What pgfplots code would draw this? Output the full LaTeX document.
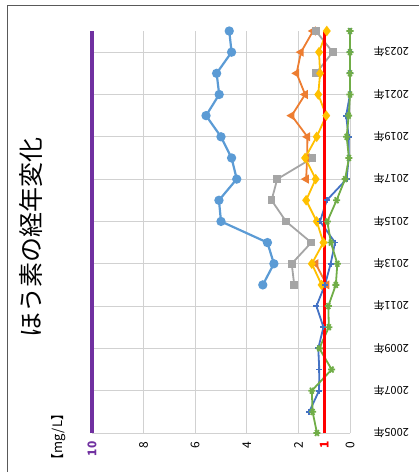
\documentclass[border=0pt]{standalone}
\usepackage{fontspec}
\setmainfont{Noto Sans CJK JP}
\usepackage{pgfplots}
\pgfplotsset{compat=1.18}
\definecolor{cA}{HTML}{5B9BD5}
\definecolor{cB}{HTML}{ED7D31}
\definecolor{cC}{HTML}{A5A5A5}
\definecolor{cD}{HTML}{FFC000}
\definecolor{cE}{HTML}{4472C4}
\definecolor{cF}{HTML}{70AD47}
\definecolor{cPurple}{HTML}{7030A0}
\definecolor{cRed}{HTML}{FF0000}
\begin{document}
\begin{tikzpicture}
\useasboundingbox (0,0) rectangle (419bp,-472bp);
\draw[black!65, line width=0.8bp] (7bp,-480bp) -- (7bp,-5bp) -- (430bp,-5bp);
\node[rotate=90, font=\fontsize{25bp}{27bp}\selectfont] at (31bp,-237bp) {ほう素の経年変化};
\node[rotate=90, font=\fontsize{13bp}{14bp}\selectfont] at (59bp,-437bp) {【mg/L】};
\begin{axis}[
  at={(92bp,-433bp)}, anchor=south west,
  width=258bp, height=402bp, scale only axis,
  x dir=reverse, xmin=0, xmax=10, ymin=2005, ymax=2024,
  clip=false,
  unbounded coords=jump,
  axis line style={draw=none},
  major tick length=0pt,
  xtick={0,1,2,4,6,8,10},
  xticklabels={0,{\textcolor{cRed}{\bfseries 1}},2,4,6,8,{\textcolor{cPurple}{\bfseries 10}}},
  ytick={2005,2007,...,2023},
  yticklabels={2005年,2007年,2009年,2011年,2013年,2015年,2017年,2019年,2021年,2023年},
  yticklabel pos=right,
  grid=major, grid style={black!18, line width=1bp},
  xticklabel style={yshift=-5bp, rotate=90, anchor=east, font=\fontsize{12bp}{13bp}\selectfont},
  yticklabel style={xshift=20bp, rotate=180, anchor=east, font=\fontsize{11bp}{12bp}\selectfont},
  /pgf/number format/assume math mode=true,
]
\addplot[cA, line width=2.2bp, mark=*, mark size=3.5bp] coordinates {
 (3.38,2012) (2.95,2013) (3.2,2014) (5.0,2015) (5.08,2016) (4.39,2017) (4.59,2018)
 (5.0,2019) (5.58,2020) (5.07,2021) (5.17,2022) (4.59,2023) (4.68,2024)};
\addplot[cB, line width=1.8bp, mark=triangle*, mark size=3.5bp, mark options={rotate=90}] coordinates {
 (0.9,2012) (1.33,2013) (nan,2014) (nan,2015) (nan,2016) (1.7,2017) (1.66,2018)
 (1.65,2019) (2.26,2020) (1.74,2021) (2.07,2022) (1.9,2023) (1.43,2024)};
\addplot[cC, line width=1.8bp, mark=square*, mark size=3bp] coordinates {
 (2.16,2012) (2.26,2013) (1.5,2014) (2.48,2015) (3.04,2016) (2.82,2017) (1.45,2018)
 (nan,2019) (nan,2020) (nan,2021) (1.32,2022) (0.67,2023) (1.32,2024)};
\addplot[cD, line width=1.8bp, mark=diamond*, mark size=3.8bp] coordinates {
 (1.1,2012) (1.48,2013) (1.03,2014) (1.29,2015) (1.7,2016) (1.33,2017) (1.74,2018)
 (1.29,2019) (0.92,2020) (1.23,2021) (1.16,2022) (1.2,2023) (0.9,2024)};
\addplot[cE, line width=1.8bp, mark=+, mark size=3bp] coordinates {
 (1.58,2006) (1.2,2007) (1.19,2008) (1.23,2009) (1.03,2010) (1.3,2011) (0.97,2012)
 (0.75,2013) (0.58,2014) (1.16,2015) (0.9,2016) (0.13,2017) (0.05,2018) (0.05,2019)
 (0.15,2020) (0,2021) (0,2022) (0,2023) (0,2024)};
\addplot[cF, line width=1.8bp, mark=asterisk, mark size=3.5bp, mark options={rotate=90}] coordinates {
 (1.28,2005) (1.45,2006) (1.48,2007) (0.71,2008) (1.19,2009) (0.82,2010) (0.84,2011)
 (0.55,2012) (0.49,2013) (0.74,2014) (0.88,2015) (0.52,2016) (0.19,2017) (0.04,2018)
 (0.13,2019) (0.05,2020) (0,2021) (0,2022) (0,2023) (0,2024)};
\addplot[cRed, line width=3bp] coordinates {(1,2005) (1,2024)};
\addplot[cPurple, line width=4.5bp] coordinates {(10,2005) (10,2024)};
\end{axis}
\end{tikzpicture}
\end{document}
